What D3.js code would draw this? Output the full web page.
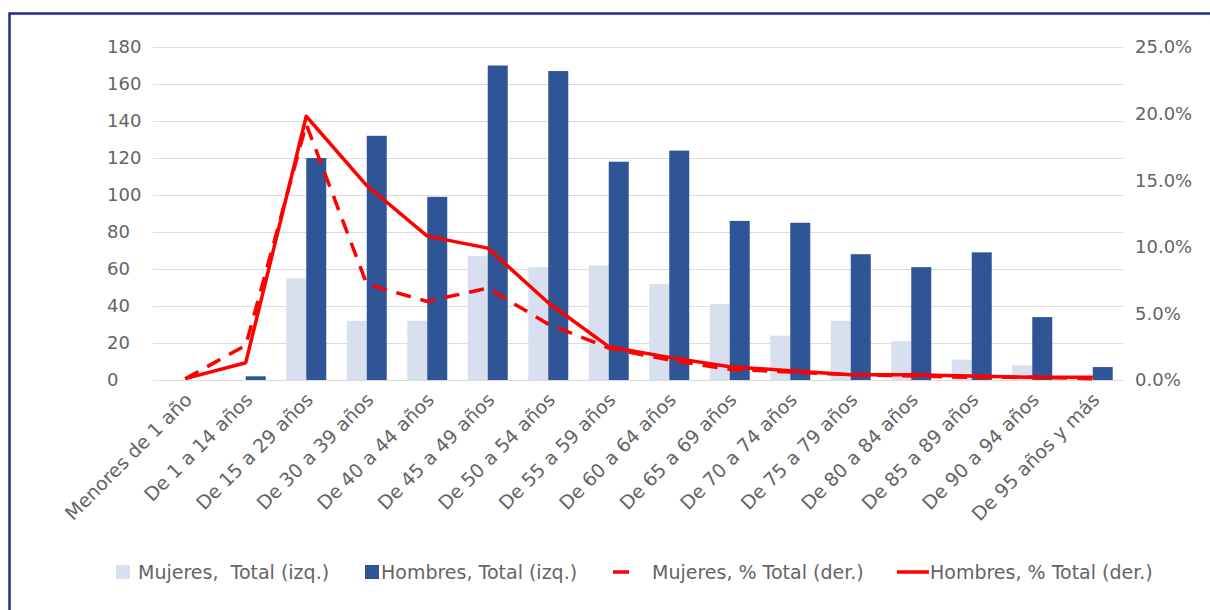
<!DOCTYPE html>
<html>
<head>
<meta charset="utf-8">
<script src="https://cdn.jsdelivr.net/npm/d3@7"></script>
<style>
  body { margin: 0; background: #fff; }
  text { font-family: "DejaVu Sans", sans-serif; fill: #646464; }
</style>
</head>
<body>
<div id="chart"></div>
<script>
let categories = ["Menores de 1 año", "De 1 a 14 años", "De 15 a 29 años", "De 30 a 39 años",
    "De 40 a 44 años", "De 45 a 49 años", "De 50 a 54 años", "De 55 a 59 años",
    "De 60 a 64 años", "De 65 a 69 años", "De 70 a 74 años", "De 75 a 79 años",
    "De 80 a 84 años", "De 85 a 89 años", "De 90 a 94 años", "De 95 años y más"];
let mujeresTotal = [0, 0, 55, 32, 32, 67, 61, 62, 52, 41, 24, 32, 21, 11, 8, 0];
let hombresTotal = [0, 2, 120, 132, 99, 170, 167, 118, 124, 86, 85, 68, 61, 69, 34, 7];
let mujeresPct = [0.1, 2.6, 19.2, 7.2, 5.9, 6.9, 4.2, 2.4, 1.5, 0.8, 0.6, 0.4, 0.3, 0.2, 0.2, 0.1];
let hombresPct = [0.1, 1.3, 19.8, 14.6, 10.8, 9.9, 5.8, 2.5, 1.7, 1.0, 0.7, 0.4, 0.4, 0.3, 0.2, 0.2];
let leftTicks = [0, 20, 40, 60, 80, 100, 120, 140, 160, 180];
let rightTicks = [0, 5, 10, 15, 20, 25];
let legendLabels = ["Mujeres,  Total (izq.)", "Hombres, Total (izq.)", "Mujeres, % Total (der.)", "Hombres, % Total (der.)"];

let width = 1210, height = 610;
let plotLeft = 155, plotRight = 1123, plotTop = 47, plotBottom = 380;
let colMuj = "#d8dfef", colHom = "#2f5597", colRed = "#ff0000";

let svg = d3.select("#chart").append("svg")
    .attr("width", width)
    .attr("height", height);

// frame
svg.append("rect")
    .attr("x", 9.5).attr("y", 13.5)
    .attr("width", width).attr("height", height)
    .style("fill", "none")
    .style("stroke", "#1f2d8c")
    .style("stroke-width", 2.5);

let x = d3.scaleBand().domain(categories).range([plotLeft, plotRight]).padding(0);
let yLeft = d3.scaleLinear().domain([0, 180]).range([plotBottom, plotTop]);
let yRight = d3.scaleLinear().domain([0, 25]).range([plotBottom, plotTop]);
let barW = 20;

// gridlines
svg.selectAll("line.grid")
    .data(leftTicks)
    .enter()
    .append("line")
    .attr("x1", plotLeft - 2).attr("x2", plotRight)
    .attr("y1", d => Math.round(yLeft(d)) + 0.5)
    .attr("y2", d => Math.round(yLeft(d)) + 0.5)
    .style("stroke", "#dcdcdc")
    .style("stroke-width", 1);

// left axis labels
svg.selectAll("text.yl")
    .data(leftTicks)
    .enter()
    .append("text")
    .attr("x", 107)
    .attr("y", d => yLeft(d))
    .attr("dy", "0.35em")
    .style("font-size", "18px")
    .text(d => d);

// right axis labels
svg.selectAll("text.yr")
    .data(rightTicks)
    .enter()
    .append("text")
    .attr("x", 1135)
    .attr("y", d => yRight(d))
    .attr("dy", "0.35em")
    .style("font-size", "18px")
    .text(d => d3.format(".1f")(d) + "%");

// bars
svg.selectAll("rect.muj")
    .data(mujeresTotal)
    .enter()
    .append("rect")
    .attr("x", (d, i) => x(categories[i]) + x.bandwidth() / 2 - barW)
    .attr("width", barW)
    .attr("y", d => yLeft(d))
    .attr("height", d => plotBottom - yLeft(d))
    .style("fill", colMuj);

svg.selectAll("rect.hom")
    .data(hombresTotal)
    .enter()
    .append("rect")
    .attr("x", (d, i) => x(categories[i]) + x.bandwidth() / 2)
    .attr("width", barW)
    .attr("y", d => yLeft(d))
    .attr("height", d => plotBottom - yLeft(d))
    .style("fill", colHom);

// lines
let line = d3.line()
    .x(d => x(d.cat) + x.bandwidth() / 2)
    .y(d => yRight(d.v));

svg.append("path")
    .datum(mujeresPct.map((v, i) => ({cat: categories[i], v: v})))
    .attr("d", line)
    .style("fill", "none")
    .style("stroke", colRed)
    .style("stroke-width", 3.5)
    .style("stroke-dasharray", "15,10");

svg.append("path")
    .datum(hombresPct.map((v, i) => ({cat: categories[i], v: v})))
    .attr("d", line)
    .style("fill", "none")
    .style("stroke", colRed)
    .style("stroke-width", 3.5)
    .style("stroke-linejoin", "round");

// category labels
svg.selectAll("text.xl")
    .data(categories)
    .enter()
    .append("text")
    .attr("transform", d => `translate(${x(d) + x.bandwidth() / 2 + 8},${401}) rotate(-45)`)
    .attr("text-anchor", "end")
    .style("font-size", "19px")
    .text(d => d);

// legend
let legY = 572;
let leg = svg.append("g");
leg.append("rect").attr("x", 116).attr("y", legY - 7).attr("width", 14).attr("height", 14).style("fill", colMuj);
leg.append("rect").attr("x", 365).attr("y", legY - 7).attr("width", 14).attr("height", 14).style("fill", colHom);
leg.append("line").attr("x1", 613).attr("x2", 629).attr("y1", legY).attr("y2", legY)
    .style("stroke", colRed).style("stroke-width", 3.5);
leg.append("line").attr("x1", 897).attr("x2", 929).attr("y1", legY).attr("y2", legY)
    .style("stroke", colRed).style("stroke-width", 3.5);
let legX = [138, 381, 652, 930];
leg.selectAll("text")
    .data(legendLabels)
    .enter()
    .append("text")
    .attr("x", (d, i) => legX[i])
    .attr("y", legY)
    .attr("dy", "0.35em")
    .style("font-size", "19px")
    .style("white-space", "pre")
    .text(d => d);
</script>
</body>
</html>
